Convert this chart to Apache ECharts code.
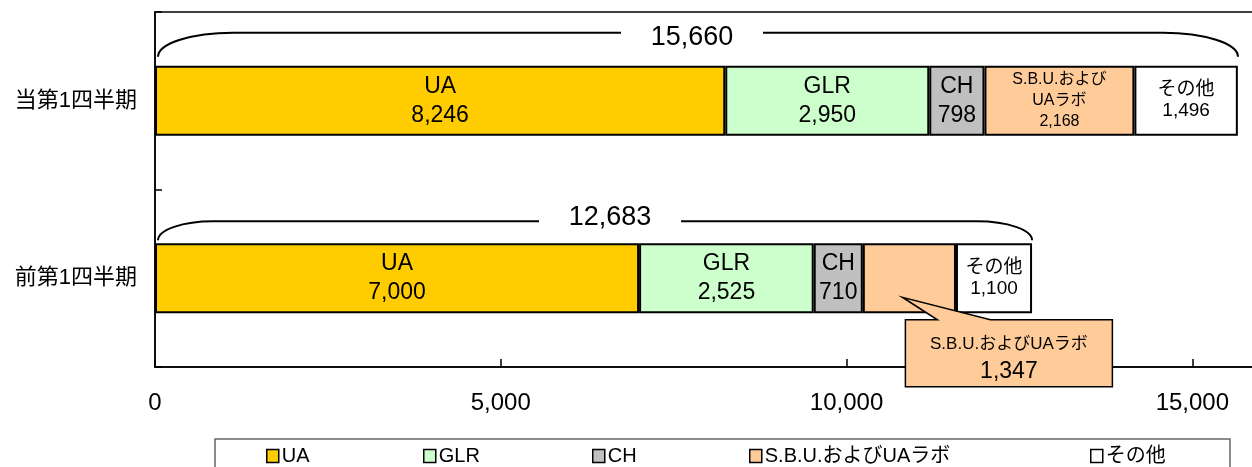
<!DOCTYPE html>
<html>
<head>
<meta charset="utf-8">
<script src="https://cdn.jsdelivr.net/npm/echarts@6/dist/echarts.min.js"></script>
<style>
  html, body { margin: 0; padding: 0; background: #fff; }
  #chart { width: 1252px; height: 467px; }
</style>
</head>
<body>
<div id="chart"></div>
<script>
// データ
const categories = ["当第1四半期", "前第1四半期"];
const seriesNames = ["UA", "GLR", "CH", "S.B.U.およびUAラボ", "その他"];
const uaValues = [8246, 7000];
const glrValues = [2950, 2525];
const chValues = [798, 710];
const sbuValues = [2168, 1347];
const otherValues = [1496, 1100];
const totals = [15660, 12683];
const axisMin = 0;
const axisMax = 16000;
const axisInterval = 5000;

const FONT = '"Liberation Sans", "Noto Sans CJK JP", sans-serif';
const colors = ["#FFCC00", "#CCFFCC", "#C0C0C0", "#FFCC99", "#FFFFFF"];
const fmt = (v) => Number(v).toLocaleString("en-US");

// 括弧の形（レイアウト用）
const braceLift = [33, 22];
const braceDrop = [9, 3];
const braceCurve = [75, 55];
const braceTextDx = [-6, 15];
const braceTextDy = [5, -4];

function barSeries(idx, values, labelName, fontSize, lineHeight, hideIdx) {
  return {
    name: seriesNames[idx],
    type: "bar",
    stack: "total",
    barWidth: 70,
    itemStyle: { color: colors[idx], borderColor: "#000", borderWidth: 2 },
    label: {
      show: true,
      position: "inside",
      color: "#000",
      fontFamily: FONT,
      fontSize: fontSize,
      lineHeight: lineHeight,
      padding: [3, 0, 0, 0],
      formatter: (p) => labelName + "\n" + fmt(p.value),
    },
    emphasis: { disabled: true },
    data: values.map((v, i) =>
      i === hideIdx ? { value: v, label: { show: false } } : v
    ),
  };
}

const chart = echarts.init(document.getElementById("chart"));
chart.setOption({
  animation: false,
  grid: {
    left: 155,
    top: 12,
    right: -9.5,
    bottom: 100,
    show: true,
    borderColor: "#000",
    borderWidth: 1.5,
    containLabel: false,
    outerBoundsMode: "none",
  },
  xAxis: {
    type: "value",
    min: axisMin,
    max: axisMax,
    interval: axisInterval,
    splitLine: { show: false },
    axisLine: { show: true, lineStyle: { color: "#000", width: 1.5 } },
    axisTick: { show: true, inside: true, length: 8, lineStyle: { color: "#000", width: 1.5 } },
    axisLabel: {
      color: "#000",
      fontSize: 24,
      fontFamily: FONT,
      margin: 24,
      showMaxLabel: false,
      formatter: (v) => fmt(v),
    },
  },
  yAxis: {
    type: "category",
    data: categories,
    inverse: true,
    axisLine: { show: true, lineStyle: { color: "#000", width: 1.5 } },
    axisTick: { show: true, inside: true, length: 7, lineStyle: { color: "#000", width: 1.5 } },
    axisLabel: { color: "#000", fontSize: 22, fontFamily: FONT, margin: 18 },
  },
  legend: seriesNames.map((n, i) => ({
    data: [n],
    left: [266, 423, 592, 749, 1090][i],
    top: 446,
    padding: 0,
    icon: "rect",
    itemWidth: 12,
    itemHeight: 13,
    selectedMode: false,
    itemStyle: { borderColor: "#000", borderWidth: 1.5 },
    textStyle: { color: "#000", fontSize: 20, fontFamily: FONT, padding: [0, 0, 0, -2] },
  })),
  graphic: [
    {
      type: "rect",
      shape: { x: 215, y: 439, width: 1015, height: 40 },
      style: { fill: "none", stroke: "#666", lineWidth: 1.5 },
      silent: true,
    },
  ],
  series: [
    barSeries(0, uaValues, "UA", 23, 29),
    barSeries(1, glrValues, "GLR", 23, 29),
    barSeries(2, chValues, "CH", 23, 29),
    barSeries(3, sbuValues, "S.B.U.および\nUAラボ", 16, 21, 1),
    barSeries(4, otherValues, "その他", 19, 21),
    {
      // 合計の括弧
      type: "custom",
      silent: true,
      z: 5,
      data: totals.map((t, i) => [t, i]),
      renderItem: (params, api) => {
        const i = params.dataIndex;
        const cat = api.value(1);
        const end = api.coord([api.value(0), cat]);
        const start = api.coord([0, cat]);
        const barTop = end[1] - 35;
        const x0 = start[0] + 3;
        const x1 = end[0];
        const yl = barTop - braceLift[i];
        const ye = barTop - braceDrop[i];
        const h = ye - yl;
        const c = braceCurve[i];
        const tx = (x0 + x1) / 2 + braceTextDx[i];
        const gap = 71;
        const d =
          `M${x0},${ye} C${x0},${ye - h * 0.55} ${x0 + c * 0.45},${yl} ${x0 + c},${yl} ` +
          `L${tx - gap},${yl} M${tx + gap},${yl} L${x1 - c},${yl} ` +
          `C${x1 - c * 0.45},${yl} ${x1},${yl + h * 0.45} ${x1},${ye}`;
        return {
          type: "group",
          children: [
            {
              type: "path",
              shape: { pathData: d },
              style: { fill: "none", stroke: "#000", lineWidth: 2 },
            },
            {
              type: "text",
              style: {
                text: fmt(api.value(0)),
                x: tx,
                y: yl + braceTextDy[i],
                fill: "#000",
                fontSize: 27,
                fontFamily: FONT,
                align: "center",
                verticalAlign: "middle",
                textAlign: "center",
                textVerticalAlign: "middle",
              },
            },
          ],
        };
      },
    },
    {
      // 前第1四半期 S.B.U. の吹き出し
      type: "custom",
      silent: true,
      z: 6,
      data: [[uaValues[1] + glrValues[1] + chValues[1], sbuValues[1], 1]],
      renderItem: (params, api) => {
        const s = api.value(0);
        const v = api.value(1);
        const p = api.coord([s + v / 2, api.value(2)]);
        const cx = p[0];
        const cy = p[1];
        const L = cx - 4, R = cx + 203, T = cy + 41.5, B = cy + 108.5;
        const tip = [cx - 7, cy + 19];
        return {
          type: "group",
          children: [
            {
              type: "polygon",
              shape: {
                points: [[L, T], [cx + 28, T], tip, [cx + 81, T], [R, T], [R, B], [L, B]],
              },
              style: { fill: "#FFCC99", stroke: "#000", lineWidth: 1.5 },
            },
            {
              type: "text",
              style: {
                text: seriesNames[3],
                x: (L + R) / 2,
                y: T + 25,
                fill: "#000",
                fontSize: 17,
                fontFamily: FONT,
                align: "center",
                verticalAlign: "middle",
                textAlign: "center",
                textVerticalAlign: "middle",
              },
            },
            {
              type: "text",
              style: {
                text: fmt(v),
                x: (L + R) / 2,
                y: T + 52,
                fill: "#000",
                fontSize: 23,
                fontFamily: FONT,
                align: "center",
                verticalAlign: "middle",
                textAlign: "center",
                textVerticalAlign: "middle",
              },
            },
          ],
        };
      },
    },
  ],
});
</script>
</body>
</html>
